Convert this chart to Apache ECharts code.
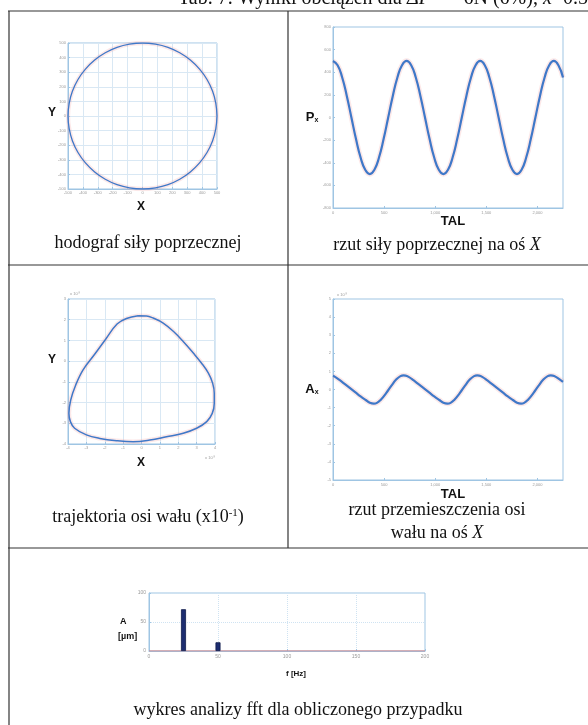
<!DOCTYPE html>
<html><head><meta charset="utf-8">
<script src="https://cdn.jsdelivr.net/npm/echarts@6/dist/echarts.min.js"></script>
<style>html,body{margin:0;padding:0;background:#fff}#c{width:588px;height:725px}</style>
</head><body><div id="c"></div>
<script>
// ---- data ----
const circleX = [500,492,470,433,383,321,250,171,87,0,-87,-171,-250,-321,-383,-433,-470,-492,-500,-492,-470,-433,-383,-321,-250,-171,-87,0,87,171,250,321,383,433,470,492,500];
const circleY = [0,87,171,250,321,383,433,470,492,500,492,470,433,383,321,250,171,87,0,-87,-171,-250,-321,-383,-433,-470,-492,-500,-492,-470,-433,-383,-321,-250,-171,-87,0];

const pxTal = [0,45,90,135,180,225,270,315,360,405,450,495,540,585,630,675,720,765,810,855,900,945,990,1035,1080,1125,1170,1215,1260,1305,1350,1395,1440,1485,1530,1575,1620,1665,1710,1755,1800,1845,1890,1935,1980,2025,2070,2115,2160,2205,2250];
const pxVal = [500,462,354,191,0,-191,-354,-462,-500,-462,-354,-191,0,191,354,462,
               500,462,354,191,0,-191,-354,-462,-500,-462,-354,-191,0,191,354,462,
               500,462,354,191,0,-191,-354,-462,-500,-462,-354,-191,0,191,354,462,
               500,462,354];

const trajX = [-0.18,-0.82,-1.33,-1.95,-2.56,-3.18,-3.58,-3.85,-3.95,-3.87,-3.64,-3.0,-2.27,-1.36,-0.45,0.45,1.36,2.27,3.0,3.55,3.85,3.96,3.96,3.87,3.64,3.27,2.82,2.27,1.73,1.18,0.64,0.27,-0.18];
const trajY = [2.19,2.06,1.79,1.06,0.32,-0.42,-1.15,-1.87,-2.52,-2.92,-3.24,-3.56,-3.73,-3.84,-3.89,-3.81,-3.65,-3.48,-3.24,-2.92,-2.52,-2.03,-1.55,-1.06,-0.58,-0.10,0.39,0.95,1.44,1.84,2.08,2.18,2.19];

const axTal = [0,20,70,120,170,220,270,320,360,400,430,470,520,570,620,660,690,
               710,740,790,840,890,940,990,1040,1080,1120,1150,1190,1240,1290,1340,1380,1410,
               1430,1460,1510,1560,1610,1660,1710,1760,1800,1840,1870,1910,1960,2010,2060,2100,2130,
               2150,2180,2230,2250];
const axVal = [0.75,0.70,0.50,0.28,0.06,-0.16,-0.38,-0.58,-0.73,-0.78,-0.74,-0.55,-0.20,0.20,0.56,0.74,0.78,
               0.77,0.70,0.50,0.28,0.06,-0.16,-0.38,-0.58,-0.73,-0.78,-0.74,-0.55,-0.20,0.20,0.56,0.74,0.78,
               0.77,0.70,0.50,0.28,0.06,-0.16,-0.38,-0.58,-0.73,-0.78,-0.74,-0.55,-0.20,0.20,0.56,0.74,0.78,
               0.77,0.70,0.50,0.42];

const fftFreq = [25,50];
const fftAmp = [72,15];
const fftBaseX = [0,200];
const fftBaseY = [0,0];

const zip = (a,b) => a.map((v,i)=>[v,b[i]]);

// ---- styles ----
const BOX = '#9fc5e3';
const GRIDL = '#d9e8f4';
const LBL = '#9a9a9a';
const LINE = '#3f78c8';
const SANS = 'Liberation Sans, Arial, sans-serif';
const SERIF = 'Liberation Serif, Times New Roman, serif';

function axis(gi, min, max, interval, split, extra) {
  return Object.assign({
    type:'value', gridIndex:gi, min, max, interval,
    axisLine:{show:true, onZero:false, lineStyle:{color:BOX, width:1}},
    axisTick:{show:true, inside:true, length:2, lineStyle:{color:BOX}},
    axisLabel:{fontSize:4, color:LBL, margin:2, fontFamily:SANS},
    splitLine:{show:split, lineStyle:{color:GRIDL, width:1}}
  }, extra||{});
}

const grids = [
  {left:68, top:43, width:149, height:146},
  {left:333, top:27, width:230, height:181},
  {left:68, top:299, width:147, height:145},
  {left:333, top:299, width:230, height:181},
  {left:149, top:593, width:276, height:58}
].map(g=>Object.assign({show:true, borderColor:BOX, borderWidth:1, backgroundColor:'transparent'}, g));

const xAxes = [
  axis(0,-500,500,100,true),
  axis(1,0,2250,500,false,{axisLabel:{fontSize:4,color:LBL,margin:3,showMaxLabel:false}}),
  axis(2,-4,4,1,true),
  axis(3,0,2250,500,false,{axisLabel:{fontSize:4,color:LBL,margin:3,showMaxLabel:false}}),
  axis(4,0,200,50,true,{axisLabel:{fontSize:5,color:LBL,margin:3},splitLine:{show:true,lineStyle:{color:'#cfe3f2',type:'dotted'}}})
];
const yAxes = [
  axis(0,-500,500,100,true),
  axis(1,-800,800,200,false),
  axis(2,-4,3,1,true),
  axis(3,-5,5,1,false),
  axis(4,0,100,50,true,{axisLabel:{fontSize:5,color:LBL,margin:3},splitLine:{show:true,lineStyle:{color:'#cfe3f2',type:'dotted'}}})
];

function curve(gi, data, w, sm) {
  return [
    {type:'line', xAxisIndex:gi, yAxisIndex:gi, data, smooth:sm, symbol:'none', silent:true,
     lineStyle:{color:'rgba(240,150,150,0.22)', width:w+3}, z:2},
    {type:'line', xAxisIndex:gi, yAxisIndex:gi, data, smooth:sm, symbol:'none', silent:true,
     lineStyle:{color:LINE, width:w}, z:3}
  ];
}

const series = [].concat(
  curve(0, zip(circleX,circleY), 1.3, 0.4),
  curve(1, zip(pxTal,pxVal), 2.2, true),
  curve(2, zip(trajX,trajY), 1.5, 0.4),
  curve(3, zip(axTal,axVal), 2.2, true),
  [
    {type:'line', xAxisIndex:4, yAxisIndex:4, data:zip(fftBaseX,fftBaseY), symbol:'none', silent:true,
     lineStyle:{color:'#d77a7a', width:1}, z:2},
    {type:'bar', xAxisIndex:4, yAxisIndex:4, data:zip(fftFreq,fftAmp), barWidth:5, silent:true,
     itemStyle:{color:'#1d2d70', borderColor:'#0f1a4a', borderWidth:0.8}, z:3}
  ]
);

function txt(x,y,text,size,extra) {
  return {type:'text', x, y, silent:true, style:Object.assign({text, fontSize:size, fontFamily:SANS, fontWeight:'bold', fill:'#111', align:'center', verticalAlign:'middle'}, extra||{})};
}
function hl(x1,y1,x2,y2) {
  return {type:'line', silent:true, shape:{x1,y1,x2,y2}, style:{stroke:'#333', lineWidth:1.2}};
}

const graphic = [
  // title (cut at top)
  {type:'text', x:178, y:9, silent:true, style:{
    text:'{n|Tab. 7. Wyniki obciążeń dla }{i|ΔP}{n| = −6N (6%), }{i|x}{n|=0.5}',
    verticalAlign:'bottom', align:'left',
    rich:{n:{fontSize:20,fontFamily:SERIF,fill:'#111'}, i:{fontSize:20,fontFamily:SERIF,fontStyle:'italic',fill:'#111'}}}},
  // table lines
  hl(8,11,588,11),
  hl(9,11,9,725),
  hl(288,11,288,548),
  hl(8,265,588,265),
  hl(8,548,588,548),
  // axis titles
  txt(52,113,'Y',12),
  txt(141,207,'X',12),
  txt(453,221,'TAL',13),
  {type:'text', x:312, y:117, silent:true, style:{text:'{p|P}{s|x}', align:'center', verticalAlign:'middle',
    rich:{p:{fontSize:13,fontWeight:'bold',fontFamily:SANS,fill:'#111'}, s:{fontSize:7,fontWeight:'bold',fontFamily:SANS,fill:'#111',verticalAlign:'bottom',padding:[6,0,0,0]}}}},
  txt(52,360,'Y',12),
  txt(141,463,'X',12),
  {type:'text', x:312, y:389, silent:true, style:{text:'{p|A}{s|x}', align:'center', verticalAlign:'middle',
    rich:{p:{fontSize:13,fontWeight:'bold',fontFamily:SANS,fill:'#111'}, s:{fontSize:7,fontWeight:'bold',fontFamily:SANS,fill:'#111',verticalAlign:'bottom',padding:[6,0,0,0]}}}},
  txt(453,494,'TAL',13),
  txt(120,622,'A',9,{align:'left'}),
  txt(118,637,'[µm]',9,{align:'left'}),
  txt(296,674,'f [Hz]',8),
  // exponent labels
  txt(75,294,'x 10⁻³',4,{fontWeight:'normal',fill:LBL}),
  txt(210,458,'x 10⁻³',4,{fontWeight:'normal',fill:LBL}),
  txt(342,295,'x 10⁻³',4,{fontWeight:'normal',fill:LBL}),
  // captions
  txt(148,243,'hodograf siły poprzecznej',18,{fontFamily:SERIF,fontWeight:'normal'}),
  {type:'text', x:437, y:245, silent:true, style:{text:'{n|rzut siły poprzecznej na oś }{i|X}', align:'center', verticalAlign:'middle',
    rich:{n:{fontSize:18,fontFamily:SERIF,fill:'#111'}, i:{fontSize:18,fontFamily:SERIF,fontStyle:'italic',fill:'#111'}}}},
  {type:'text', x:148, y:517, silent:true, style:{text:'{n|trajektoria osi wału (x10}{s|-1}{n|)}', align:'center', verticalAlign:'middle',
    rich:{n:{fontSize:18,fontFamily:SERIF,fill:'#111'}, s:{fontSize:11,fontFamily:SERIF,fill:'#111',verticalAlign:'top',padding:[0,0,8,0]}}}},
  txt(437,510,'rzut przemieszczenia osi',18,{fontFamily:SERIF,fontWeight:'normal'}),
  {type:'text', x:437, y:533, silent:true, style:{text:'{n|wału na oś }{i|X}', align:'center', verticalAlign:'middle',
    rich:{n:{fontSize:18,fontFamily:SERIF,fill:'#111'}, i:{fontSize:18,fontFamily:SERIF,fontStyle:'italic',fill:'#111'}}}},
  txt(298,710,'wykres analizy fft dla obliczonego przypadku',18,{fontFamily:SERIF,fontWeight:'normal'})
];

const chart = echarts.init(document.getElementById('c'), null, {renderer:'canvas'});
chart.setOption({
  animation:false,
  backgroundColor:'#fff',
  grid:grids, xAxis:xAxes, yAxis:yAxes, series, graphic
});
</script></body></html>
